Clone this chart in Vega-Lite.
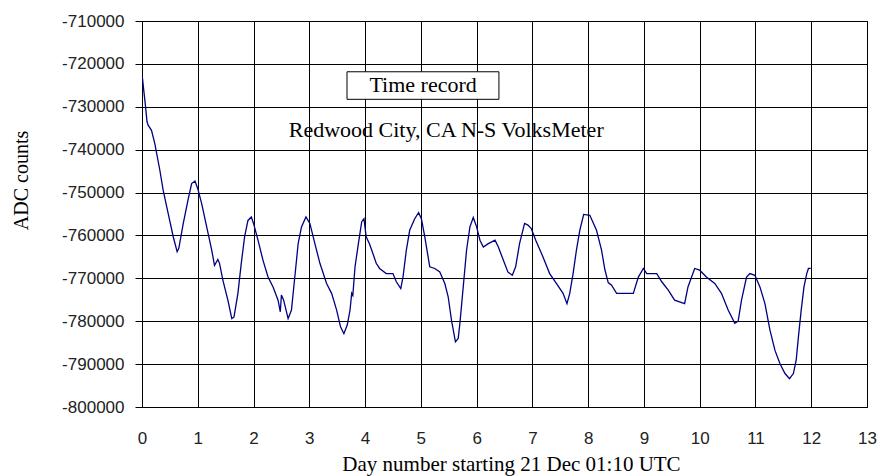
{
  "$schema": "https://vega.github.io/schema/vega-lite/v6.json",
  "width": 725,
  "height": 386,
  "autosize": {"type": "none"},
  "padding": {"left": 142, "top": 21, "right": 12, "bottom": 69},
  "background": "white",
  "config": {
    "view": {"stroke": "black", "strokeWidth": 1},
    "axis": {
      "gridColor": "black",
      "gridOpacity": 1,
      "gridWidth": 1,
      "domainColor": "black",
      "tickColor": "black",
      "labelFont": "Liberation Sans",
      "labelFontSize": 17,
      "labelColor": "#222",
      "titleFont": "Liberation Serif",
      "titleFontSize": 20,
      "titleFontWeight": "normal",
      "titleColor": "black"
    }
  },
  "layer": [
    {
      "data": {
        "values": [
          {"d": 0.00, "v": -723000}, {"d": 0.01, "v": -723500}, {"d": 0.03, "v": -726000},
          {"d": 0.06, "v": -729500}, {"d": 0.09, "v": -733500}, {"d": 0.11, "v": -734300},
          {"d": 0.17, "v": -735500}, {"d": 0.23, "v": -738600}, {"d": 0.32, "v": -744800},
          {"d": 0.38, "v": -749500}, {"d": 0.47, "v": -754900}, {"d": 0.56, "v": -760300},
          {"d": 0.63, "v": -763800}, {"d": 0.66, "v": -763000}, {"d": 0.74, "v": -757200},
          {"d": 0.83, "v": -751400}, {"d": 0.89, "v": -747900}, {"d": 0.95, "v": -747300},
          {"d": 1.00, "v": -749100}, {"d": 1.07, "v": -752600}, {"d": 1.16, "v": -758000},
          {"d": 1.25, "v": -763400}, {"d": 1.30, "v": -767000}, {"d": 1.36, "v": -765600},
          {"d": 1.39, "v": -766500}, {"d": 1.45, "v": -770400}, {"d": 1.54, "v": -775100},
          {"d": 1.61, "v": -779400}, {"d": 1.65, "v": -779000}, {"d": 1.72, "v": -773500},
          {"d": 1.78, "v": -766500}, {"d": 1.84, "v": -760300}, {"d": 1.90, "v": -756500},
          {"d": 1.96, "v": -755700}, {"d": 2.00, "v": -757200}, {"d": 2.08, "v": -761100},
          {"d": 2.17, "v": -765800}, {"d": 2.26, "v": -769700}, {"d": 2.35, "v": -772000},
          {"d": 2.44, "v": -775100}, {"d": 2.48, "v": -777800}, {"d": 2.50, "v": -773900},
          {"d": 2.54, "v": -775100}, {"d": 2.62, "v": -779400}, {"d": 2.68, "v": -777400},
          {"d": 2.74, "v": -769700}, {"d": 2.80, "v": -761900}, {"d": 2.86, "v": -758000},
          {"d": 2.94, "v": -755700}, {"d": 3.01, "v": -757200}, {"d": 3.10, "v": -761900},
          {"d": 3.19, "v": -766500}, {"d": 3.31, "v": -771200}, {"d": 3.40, "v": -773500},
          {"d": 3.49, "v": -777400}, {"d": 3.56, "v": -781300}, {"d": 3.62, "v": -782900},
          {"d": 3.68, "v": -780900}, {"d": 3.73, "v": -777400}, {"d": 3.76, "v": -773500},
          {"d": 3.78, "v": -774000}, {"d": 3.82, "v": -767300}, {"d": 3.88, "v": -761900},
          {"d": 3.94, "v": -756800}, {"d": 3.98, "v": -756100}, {"d": 4.02, "v": -760300},
          {"d": 4.08, "v": -762000}, {"d": 4.14, "v": -764200}, {"d": 4.20, "v": -766500},
          {"d": 4.26, "v": -767700}, {"d": 4.38, "v": -768900}, {"d": 4.50, "v": -768900},
          {"d": 4.56, "v": -770800}, {"d": 4.64, "v": -772400}, {"d": 4.68, "v": -769700},
          {"d": 4.74, "v": -763400}, {"d": 4.80, "v": -758800}, {"d": 4.89, "v": -756100},
          {"d": 4.96, "v": -754700}, {"d": 5.01, "v": -756100}, {"d": 5.07, "v": -760300},
          {"d": 5.16, "v": -767300}, {"d": 5.25, "v": -767700}, {"d": 5.34, "v": -768500},
          {"d": 5.43, "v": -771200}, {"d": 5.49, "v": -774300}, {"d": 5.55, "v": -779800},
          {"d": 5.62, "v": -784800}, {"d": 5.67, "v": -784000}, {"d": 5.70, "v": -780500},
          {"d": 5.76, "v": -772000}, {"d": 5.82, "v": -763400}, {"d": 5.88, "v": -758000},
          {"d": 5.94, "v": -755800}, {"d": 6.00, "v": -758000}, {"d": 6.06, "v": -761100},
          {"d": 6.12, "v": -762700}, {"d": 6.21, "v": -761900}, {"d": 6.33, "v": -761100},
          {"d": 6.39, "v": -762700}, {"d": 6.48, "v": -765800}, {"d": 6.56, "v": -768500},
          {"d": 6.64, "v": -769300}, {"d": 6.70, "v": -767300}, {"d": 6.77, "v": -761900},
          {"d": 6.86, "v": -757200}, {"d": 6.92, "v": -757600}, {"d": 6.98, "v": -758400},
          {"d": 7.06, "v": -761100}, {"d": 7.19, "v": -765000}, {"d": 7.31, "v": -768900},
          {"d": 7.43, "v": -771200}, {"d": 7.55, "v": -773500}, {"d": 7.62, "v": -775900},
          {"d": 7.67, "v": -773500}, {"d": 7.73, "v": -768900}, {"d": 7.79, "v": -763400},
          {"d": 7.85, "v": -758800}, {"d": 7.92, "v": -755100}, {"d": 8.03, "v": -755300},
          {"d": 8.15, "v": -758800}, {"d": 8.24, "v": -763400}, {"d": 8.30, "v": -768000},
          {"d": 8.36, "v": -771000}, {"d": 8.42, "v": -771600}, {"d": 8.51, "v": -773500},
          {"d": 8.63, "v": -773500}, {"d": 8.81, "v": -773500}, {"d": 8.90, "v": -769700},
          {"d": 8.99, "v": -767700}, {"d": 9.05, "v": -768900}, {"d": 9.23, "v": -768900},
          {"d": 9.32, "v": -770800}, {"d": 9.44, "v": -772800}, {"d": 9.55, "v": -775100},
          {"d": 9.73, "v": -775900}, {"d": 9.79, "v": -772000}, {"d": 9.91, "v": -767700},
          {"d": 10.00, "v": -768100}, {"d": 10.12, "v": -769700}, {"d": 10.27, "v": -771200},
          {"d": 10.39, "v": -773500}, {"d": 10.51, "v": -777400}, {"d": 10.63, "v": -780500},
          {"d": 10.69, "v": -780000}, {"d": 10.75, "v": -775100}, {"d": 10.84, "v": -769700},
          {"d": 10.90, "v": -768900}, {"d": 10.99, "v": -769300}, {"d": 11.08, "v": -772000},
          {"d": 11.17, "v": -775900}, {"d": 11.26, "v": -782100}, {"d": 11.35, "v": -786800},
          {"d": 11.44, "v": -789900}, {"d": 11.53, "v": -792200}, {"d": 11.61, "v": -793400},
          {"d": 11.68, "v": -792200}, {"d": 11.73, "v": -789100}, {"d": 11.77, "v": -783700},
          {"d": 11.82, "v": -777400}, {"d": 11.87, "v": -772000}, {"d": 11.92, "v": -768900},
          {"d": 11.95, "v": -767700}, {"d": 11.99, "v": -767700}
        ]
      },
      "mark": {"type": "line", "color": "#000080", "strokeWidth": 1.3, "clip": true},
      "encoding": {
        "x": {
          "field": "d", "type": "quantitative",
          "scale": {"domain": [0, 13], "nice": false, "zero": false},
          "axis": {
            "values": [0,1,2,3,4,5,6,7,8,9,10,11,12,13],
            "format": "d",
            "grid": true, "ticks": false, "domain": false,
            "labelPadding": 23, "labelFlush": false,
            "title": "Day number starting 21 Dec 01:10 UTC",
            "titleFontSize": 21,
            "titleX": 369, "titleY": 63, "titleAlign": "center", "titleBaseline": "alphabetic"
          }
        },
        "y": {
          "field": "v", "type": "quantitative",
          "scale": {"domain": [-800000, -710000], "nice": false, "zero": false},
          "axis": {
            "values": [-800000,-790000,-780000,-770000,-760000,-750000,-740000,-730000,-720000,-710000],
            "grid": true, "ticks": true, "tickSize": 7, "domain": false,
            "labelPadding": 11, "labelFlush": false,
            "labelExpr": "'' + datum.value",
            "title": "ADC counts",
            "titleX": -115, "titleY": 159, "titleAngle": -90, "titleAlign": "center", "titleBaseline": "alphabetic"
          }
        }
      }
    },
    {
      "data": {"values": [{"label": "Time record"}]},
      "mark": {"type": "rect", "fill": "white", "stroke": "black", "strokeWidth": 1},
      "encoding": {
        "x": {"datum": 3.676, "type": "quantitative"},
        "x2": {"datum": 6.40},
        "y": {"datum": -721840, "type": "quantitative"},
        "y2": {"datum": -728260}
      }
    },
    {
      "data": {"values": [{"label": "Time record"}]},
      "mark": {"type": "text", "font": "Liberation Serif", "fontSize": 22, "align": "center", "baseline": "alphabetic", "fill": "black"},
      "encoding": {
        "x": {"datum": 5.04, "type": "quantitative"},
        "y": {"datum": -726550, "type": "quantitative"},
        "text": {"field": "label"}
      }
    },
    {
      "data": {"values": [{"label": "Redwood City, CA N-S VolksMeter"}]},
      "mark": {"type": "text", "font": "Liberation Serif", "fontSize": 22, "align": "center", "baseline": "alphabetic", "fill": "black"},
      "encoding": {
        "x": {"datum": 5.455, "type": "quantitative"},
        "y": {"datum": -737100, "type": "quantitative"},
        "text": {"field": "label"}
      }
    }
  ]
}
